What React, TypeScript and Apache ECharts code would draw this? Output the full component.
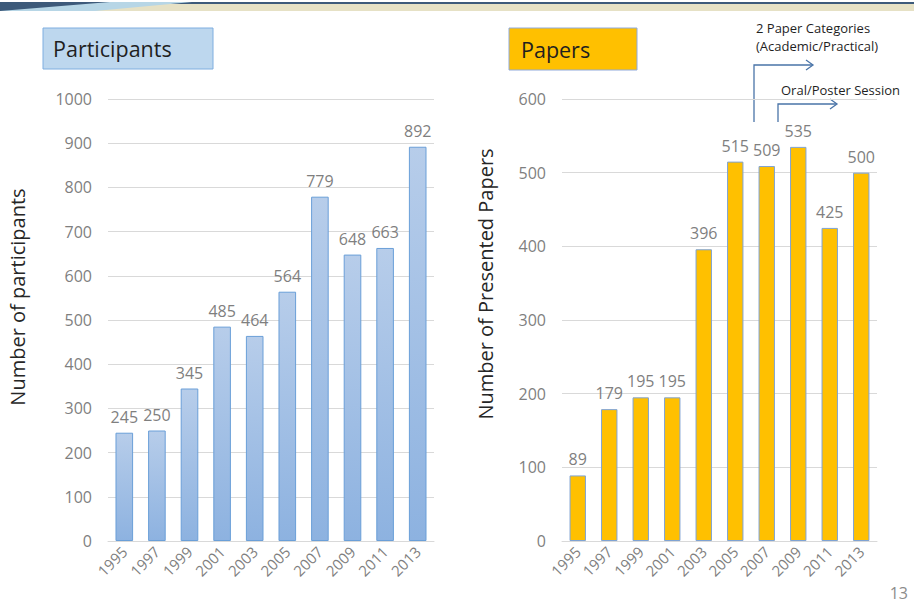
import React, { useEffect, useRef } from "react";
import * as echarts from "echarts";

const years = ["1995", "1997", "1999", "2001", "2003", "2005", "2007", "2009", "2011", "2013"];
const participants = [245, 250, 345, 485, 464, 564, 779, 648, 663, 892];
const papers = [89, 179, 195, 195, 396, 515, 509, 535, 425, 500];

const FONT = "'Open Sans', 'Noto Sans', sans-serif";
const GRAY = "#7f7f7f";

export default function App() {
  const ref = useRef<HTMLDivElement>(null);
  useEffect(() => {
    document.body.style.margin = "0";
    const chart = echarts.init(ref.current!, null, { renderer: "svg" });
    const xAxisCommon = {
      type: "category",
      data: years,
      axisTick: { show: false },
      axisLine: { lineStyle: { color: "#d9d9d9", width: 1 } },
      axisLabel: { rotate: 45, margin: 8, color: GRAY, fontSize: 15, fontFamily: FONT },
    };
    const yAxisCommon = {
      type: "value",
      min: 0,
      interval: 100,
      axisLine: { show: false },
      axisTick: { show: false },
      splitLine: { lineStyle: { color: "#d9d9d9", width: 1 } },
      axisLabel: { color: GRAY, fontSize: 16, fontFamily: FONT, margin: 16, formatter: (v: number) => String(v) },
    };
    const labelCommon = {
      show: true,
      position: "top",
      distance: 8,
      color: GRAY,
      fontSize: 16,
      fontFamily: FONT,
    };
    chart.setOption({
      animation: false,
      backgroundColor: "#ffffff",
      grid: [
        { left: 108, right: 480, top: 99, bottom: 62 },
        { left: 562, right: 37, top: 99, bottom: 62 },
      ],
      xAxis: [
        { ...xAxisCommon, gridIndex: 0 },
        { ...xAxisCommon, gridIndex: 1 },
      ],
      yAxis: [
        { ...yAxisCommon, gridIndex: 0, max: 1000 },
        { ...yAxisCommon, gridIndex: 1, max: 600 },
      ],
      series: [
        {
          type: "bar",
          xAxisIndex: 0,
          yAxisIndex: 0,
          data: participants,
          barWidth: "54%",
          itemStyle: {
            color: new echarts.graphic.LinearGradient(0, 0, 0, 1, [
              { offset: 0, color: "#b7cdea" },
              { offset: 1, color: "#8db2e0" },
            ]),
            borderColor: "#6a9fd8",
            borderWidth: 1,
          },
          label: labelCommon,
        },
        {
          type: "bar",
          xAxisIndex: 1,
          yAxisIndex: 1,
          data: papers,
          barWidth: "52%",
          itemStyle: { color: "#ffc000", borderColor: "#7fa3d3", borderWidth: 1 },
          label: labelCommon,
        },
      ],
      graphic: [
        { type: "rect", shape: { x: 0, y: 4, width: 914, height: 7 }, style: { fill: "#e6e1c5" } },
        { type: "rect", shape: { x: 0, y: 2, width: 914, height: 2 }, style: { fill: "#3d5a7a" } },
        { type: "polygon", shape: { points: [[0, 2], [192, 2], [95, 11], [0, 11]] }, style: { fill: "#b7d6e6" } },
        { type: "polygon", shape: { points: [[0, 2], [110, 2], [0, 11]] }, style: { fill: "#3d5a7a" } },
        { type: "rect", shape: { x: 43, y: 28, width: 170, height: 41 }, style: { fill: "#bdd7ee", stroke: "#7eaee0", lineWidth: 1 } },
        { type: "text", x: 53, y: 48.5, style: { text: "Participants", font: `21.5px ${FONT}`, fill: "#1f1f1f", textVerticalAlign: "middle" } },
        { type: "rect", shape: { x: 509, y: 28, width: 128, height: 42 }, style: { fill: "#ffc000", stroke: "#8faadc", lineWidth: 1 } },
        { type: "text", x: 521, y: 49, style: { text: "Papers", font: `21.5px ${FONT}`, fill: "#1f1f1f", textVerticalAlign: "middle" } },
        { type: "text", x: 17, y: 297, rotation: Math.PI / 2, style: { text: "Number of participants", font: `20px ${FONT}`, fill: "#262626", textAlign: "center", textVerticalAlign: "middle" } },
        { type: "text", x: 485, y: 284, rotation: Math.PI / 2, style: { text: "Number of Presented Papers", font: `20px ${FONT}`, fill: "#262626", textAlign: "center", textVerticalAlign: "middle" } },
        { type: "polyline", shape: { points: [[754, 122], [754, 65], [812, 65]] }, style: { stroke: "#4a74a8", lineWidth: 1.3, fill: "none" } },
        { type: "polyline", shape: { points: [[806, 60], [813, 65], [806, 70]] }, style: { stroke: "#4a74a8", lineWidth: 1.3, fill: "none" } },
        { type: "polyline", shape: { points: [[778, 122], [778, 104], [836, 104]] }, style: { stroke: "#4a74a8", lineWidth: 1.3, fill: "none" } },
        { type: "polyline", shape: { points: [[830, 99], [837, 104], [830, 109]] }, style: { stroke: "#4a74a8", lineWidth: 1.3, fill: "none" } },
        { type: "text", x: 756, y: 28, style: { text: "2 Paper Categories", font: `13px ${FONT}`, fill: "#1f1f1f", textVerticalAlign: "middle" } },
        { type: "text", x: 756, y: 46, style: { text: "(Academic/Practical)", font: `13px ${FONT}`, fill: "#1f1f1f", textVerticalAlign: "middle" } },
        { type: "text", x: 781, y: 90, style: { text: "Oral/Poster Session", font: `13px ${FONT}`, fill: "#1f1f1f", textVerticalAlign: "middle" } },
        { type: "text", x: 908, y: 593, style: { text: "13", font: `16px ${FONT}`, fill: "#8c8c8c", textAlign: "right", textVerticalAlign: "middle" } },
      ],
    });
    return () => chart.dispose();
  }, []);
  return (
    <div
      ref={ref}
      style={{ position: "absolute", left: 0, top: 0, width: 914, height: 603, background: "#fff" }}
    />
  );
}
